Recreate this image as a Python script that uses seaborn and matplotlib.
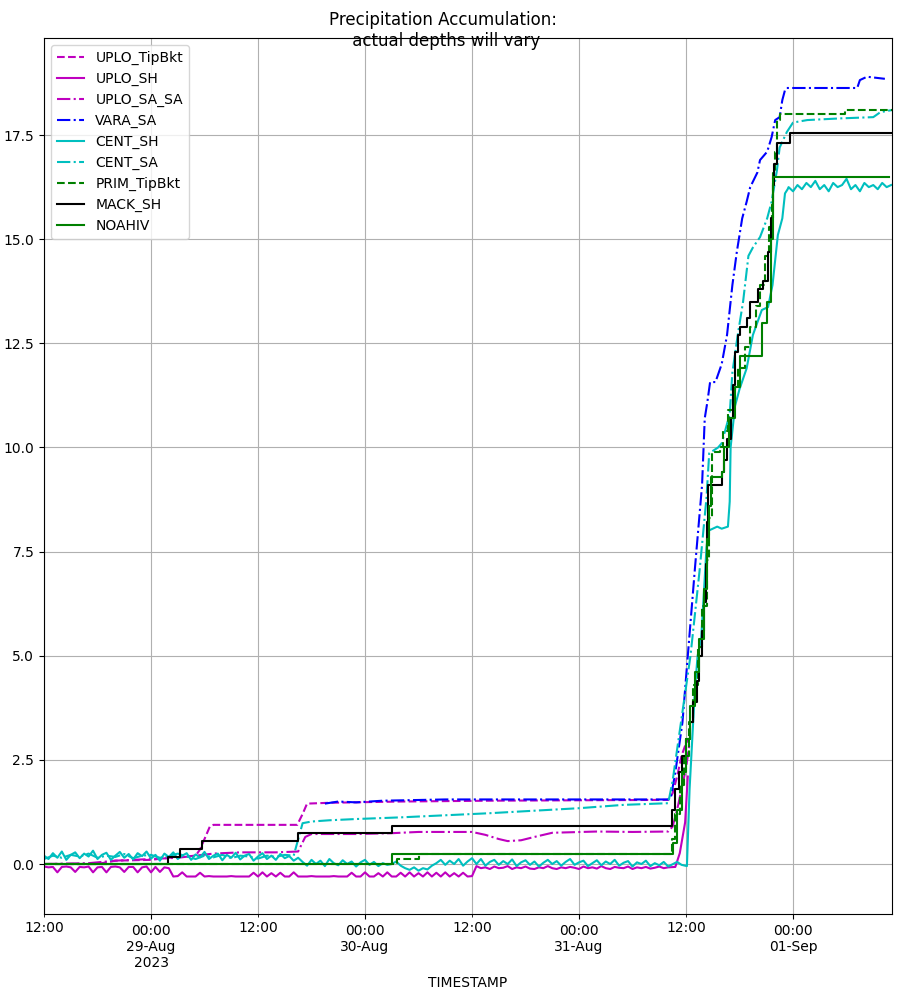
import numpy as np
import pandas as pd
import matplotlib
matplotlib.use("Agg")
import matplotlib.pyplot as plt
import matplotlib.dates as mdates
import seaborn as sns

# ---------------- data (hours after 2023-08-28 12:00) ----------------
START = "2023-08-28 12:00"
X_END_HOURS = 95.1

UPLO_TIPBKT_H = [0, 6, 8, 12, 14, 17, 17.5, 18.0, 18.6, 19.0, 28.4, 29.0, 29.5, 32, 40, 50, 60, 70.0, 70.5, 71.0, 71.5, 72.0, 72.3]
UPLO_TIPBKT_V = [0.0, 0.0, 0.08, 0.1, 0.15, 0.2, 0.35, 0.6, 0.9, 0.94, 0.94, 1.2, 1.45, 1.47, 1.5, 1.52, 1.53, 1.54, 1.7, 2.1, 2.6, 2.9, 3.0]

# half-hourly values h = 0 .. 70, then the rise
UPLO_SH_HALFHOURLY = [
    -0.06, -0.08, -0.07, -0.2, -0.07, -0.06, -0.08, -0.19, -0.07, -0.08,
    -0.06, -0.2, -0.08, -0.07, -0.2, -0.07, -0.06, -0.08, -0.19, -0.07,
    -0.07, -0.2, -0.08, -0.06, -0.2, -0.07, -0.19, -0.08, -0.1,
    -0.3, -0.29, -0.2, -0.3, -0.3, -0.3, -0.21, -0.3, -0.29, -0.3,
    -0.3, -0.3, -0.3, -0.29, -0.3, -0.3, -0.3, -0.3, -0.21, -0.3,
    -0.2, -0.3, -0.22, -0.3, -0.21, -0.3, -0.3, -0.2, -0.3, -0.3,
    -0.3, -0.29, -0.3, -0.3, -0.3, -0.3, -0.29, -0.3, -0.3, -0.3,
    -0.21, -0.3, -0.3, -0.2, -0.3, -0.3, -0.22, -0.3, -0.2, -0.3,
    -0.3, -0.21, -0.3, -0.2, -0.3, -0.22, -0.3, -0.2, -0.3, -0.21,
    -0.3, -0.2, -0.3, -0.22, -0.3, -0.21, -0.3, -0.29,
    -0.05, -0.1, -0.08, -0.12, -0.06, -0.1, -0.09, -0.05, -0.12, -0.08,
    -0.1, -0.06, -0.11, -0.12, -0.08, -0.1, -0.05, -0.1, -0.12, -0.08,
    -0.1, -0.07, -0.09, -0.12, -0.06, -0.1, -0.08, -0.11, -0.05, -0.1,
    -0.12, -0.07, -0.09, -0.1, -0.06, -0.12, -0.08, -0.1, -0.07, -0.11,
    -0.09, -0.06, -0.1, -0.08]
UPLO_SH_RISE_H = [70.8, 71.3, 71.9, 72.2]
UPLO_SH_RISE_V = [-0.07, 0.26, 1.0, 2.1]

UPLO_SA_SA_H = [0, 5, 8, 12, 15, 17, 19, 22, 26, 28.5, 29.3, 30, 35, 39, 42, 48, 49.5, 51, 52, 53.5, 55, 57, 62, 66, 70, 70.5, 71, 71.5, 72, 72.4]
UPLO_SA_SA_V = [0.0, 0.02, 0.08, 0.12, 0.15, 0.2, 0.25, 0.28, 0.28, 0.3, 0.65, 0.72, 0.72, 0.74, 0.77, 0.77, 0.7, 0.6, 0.55, 0.57, 0.65, 0.75, 0.78, 0.77, 0.78, 0.9, 1.3, 1.8, 2.3, 2.9]

VARA_SA_H = [31.5, 33, 35, 38, 45, 55, 65, 70.0, 70.3, 70.8, 71.6, 72.2, 73.0, 73.8, 74.1, 74.4, 74.7, 75.3, 76.0, 76.6,
             77.2, 77.7, 78.3, 78.8, 79.2, 80.0, 80.3, 81.1, 81.6, 82.0, 82.5, 82.8, 83.1, 83.3, 91.2, 91.5, 92.3, 94.3]
VARA_SA_V = [1.45, 1.5, 1.48, 1.52, 1.55, 1.55, 1.55, 1.55, 1.6, 2.2, 3.4, 5.0, 7.1, 9.1, 10.7, 11.1, 11.57, 11.57, 12.0, 12.7,
             13.9, 14.7, 15.5, 15.9, 16.25, 16.6, 16.9, 17.1, 17.45, 17.86, 17.93, 18.34, 18.58, 18.63, 18.63, 18.82, 18.9, 18.85]

# half-hourly values h = 0 .. 70, the rise, then half-hourly values h = 83.5 .. 95
CENT_SH_HALFHOURLY = [
    0.2, 0.12, 0.26, 0.15, 0.3, 0.1, 0.22, 0.28, 0.14, 0.25, 0.18, 0.32, 0.12, 0.22, 0.27, 0.1, 0.2, 0.29, 0.15, 0.24,
    0.11, 0.26, 0.19, 0.3, 0.13, 0.22, 0.08, 0.25, 0.17, 0.28, 0.12, 0.2, 0.26, 0.1, 0.23, 0.16, 0.29, 0.12, 0.2, 0.25,
    0.09, 0.22, 0.15, 0.27, 0.11, 0.2, 0.24, 0.08, 0.18, 0.26, 0.12, 0.2, 0.1, 0.24, 0.14, 0.19, 0.08, 0.15,
    0.05, -0.04, 0.1, 0.0, 0.08, -0.05, 0.12, 0.02, -0.03, 0.09, 0.0, 0.06, -0.06, 0.04, 0.1, -0.02, 0.05, -0.05, 0.02, -0.02,
    0.0, 0.06, -0.04, -0.1, -0.14, -0.08, -0.16, -0.1, -0.13, -0.04, 0.02, 0.1, -0.02, 0.08, 0.0, 0.12, -0.04, 0.06, 0.14, 0.0,
    0.12, -0.04, 0.05, 0.1, -0.02, 0.07, 0.0, 0.11, -0.05, 0.04, 0.09, -0.02, 0.06, -0.06, 0.03, 0.1, 0.0, 0.07, -0.04, 0.05,
    0.12, -0.02, 0.04, 0.08, -0.05, 0.02, 0.09, -0.03, 0.06, 0.0, 0.1, -0.04, 0.03, 0.07, -0.06, 0.04, 0.0, 0.08, -0.05, 0.02,
    -0.03, 0.05, -0.06]
CENT_SH_RISE_H = [71.0, 71.5, 72.1, 72.2, 72.4, 72.6, 72.8, 73.0, 73.3, 73.7, 74.0, 74.3, 74.5, 75.5, 76.0, 76.7, 76.9,
                  77.0, 77.5, 78.0, 78.8, 79.5, 80.5, 81.2, 81.7, 82.3, 82.8, 83.1, 83.4]
CENT_SH_RISE_V = [0.05, -0.02, -0.05, 0.58, 1.8, 2.6, 3.4, 4.2, 5.0, 5.4, 6.5, 7.6, 8.0, 8.1, 8.05, 8.1, 8.7,
                  10.0, 11.0, 11.4, 11.9, 12.7, 13.3, 13.37, 13.9, 15.1, 15.5, 16.1, 16.2]
CENT_SH_TAIL = [16.25, 16.15, 16.3, 16.2, 16.35, 16.25, 16.4, 16.2, 16.3, 16.15, 16.35, 16.25, 16.3, 16.45, 16.2, 16.3,
                16.15, 16.35, 16.25, 16.3, 16.2, 16.35, 16.25, 16.3]

CENT_SA_HOURLY = [0.12, 0.2, 0.15, 0.22, 0.18, 0.25, 0.15, 0.2, 0.17, 0.24, 0.14, 0.2, 0.22, 0.15, 0.19, 0.25, 0.18,
                  0.12, 0.2, 0.16, 0.22, 0.14, 0.2, 0.18, 0.13, 0.2, 0.17, 0.22, 0.2]
CENT_SA_H = [29.0, 30, 32, 35, 40, 45, 50, 55, 60, 65, 70.0, 70.5, 71.5, 72.5, 73.5, 74.3, 74.6, 75.6, 76.0, 76.9, 77.2,
             77.8, 78.4, 79.0, 79.5, 80.3, 81.1, 81.6, 82.2, 82.5, 83.3, 84.0, 85.6, 89.3, 93.0, 93.8, 95.1]
CENT_SA_V = [0.98, 1.02, 1.05, 1.08, 1.12, 1.17, 1.22, 1.28, 1.34, 1.42, 1.46, 2.0, 3.5, 5.0, 7.0, 8.8, 9.86, 10.0, 10.1,
             10.8, 11.8, 12.7, 13.5, 14.6, 14.8, 15.05, 15.5, 15.9, 16.66, 17.2, 17.57, 17.8, 17.86, 17.9, 17.93, 18.05, 18.1]

PRIM_TIPBKT_H = [0, 39.6, 42.0, 70.4, 70.8, 71.3, 71.8, 72.3, 72.8, 73.3, 73.8, 74.3, 74.6, 74.9, 75.8, 76.2, 76.7, 77.3,
                 77.8, 78.6, 79.2, 79.8, 80.3, 80.9, 81.3, 81.6, 81.8, 82.0, 82.2, 82.5, 89.8, 95.1]
PRIM_TIPBKT_V = [0.0, 0.12, 0.25, 0.6, 1.2, 1.9, 2.6, 3.4, 4.3, 5.2, 6.2, 7.3, 8.3, 9.9, 10.0, 10.4, 10.9, 11.4, 11.9,
                 12.4, 12.9, 13.4, 13.9, 14.6, 15.3, 15.9, 16.6, 17.1, 17.86, 18.0, 18.1, 18.1]

MACK_SH_H = [0, 13.9, 15.25, 17.7, 28.5, 39.0, 70.4, 70.8, 71.2, 71.6, 72.0, 72.4, 72.8, 73.2, 73.5, 73.8, 74.0, 74.2,
             74.4, 74.5, 76.0, 76.3, 76.6, 77.0, 77.3, 77.5, 77.8, 78.1, 78.8, 79.2, 80.1, 80.6, 81.2, 81.5, 81.7, 81.9,
             82.2, 83.7, 95.1]
MACK_SH_V = [0.0, 0.17, 0.36, 0.55, 0.74, 0.91, 1.3, 1.8, 2.2, 2.6, 3.0, 3.4, 3.9, 4.4, 5.0, 5.6, 6.3, 7.2, 8.2, 9.1,
             9.4, 9.7, 10.2, 10.7, 11.5, 12.3, 12.7, 12.9, 13.1, 13.5, 13.8, 14.0, 14.7, 15.5, 16.3, 16.8, 17.3, 17.55, 17.55]

NOAHIV_H = [0, 39.0, 70.5, 71.0, 71.5, 72.0, 72.5, 73.0, 73.5, 74.0, 74.4, 74.6, 74.8, 76.0, 76.3, 76.8, 77.5, 78.0,
            80.5, 81.1, 81.5, 81.7, 94.8]
NOAHIV_V = [0.0, 0.24, 0.5, 1.3, 2.2, 3.0, 3.8, 4.6, 5.4, 6.6, 7.8, 8.6, 9.3, 9.4, 10.0, 10.7, 11.45, 12.2, 13.0, 13.5,
            15.0, 16.5, 16.5]

SERIES_NAMES = ["UPLO_TipBkt", "UPLO_SH", "UPLO_SA_SA", "VARA_SA", "CENT_SH", "CENT_SA", "PRIM_TipBkt", "MACK_SH", "NOAHIV"]

MAJOR_TICKS = ["2023-08-29 00:00", "2023-08-30 00:00", "2023-08-31 00:00", "2023-09-01 00:00"]
MAJOR_LABELS = ["00:00\n29-Aug\n2023", "00:00\n30-Aug", "00:00\n31-Aug", "00:00\n01-Sep"]
MINOR_TICKS = ["2023-08-28 12:00", "2023-08-29 12:00", "2023-08-30 12:00", "2023-08-31 12:00"]
MINOR_LABELS = ["12:00", "12:00", "12:00", "12:00"]

TITLE = "Precipitation Accumulation:\n actual depths will vary"

# ---------------- build ----------------
start = pd.Timestamp(START)


def to_time(hours):
    return start + pd.to_timedelta(np.asarray(hours, dtype=float), unit="h")


half_uplo = [0.5 * i for i in range(len(UPLO_SH_HALFHOURLY))]
half_cent_sh = [0.5 * i for i in range(len(CENT_SH_HALFHOURLY))]
tail_cent_sh = [83.5 + 0.5 * i for i in range(len(CENT_SH_TAIL))]
hourly_cent_sa = list(range(len(CENT_SA_HOURLY)))

data = {
    "UPLO_TipBkt": (UPLO_TIPBKT_H, UPLO_TIPBKT_V),
    "UPLO_SH": (half_uplo + UPLO_SH_RISE_H, UPLO_SH_HALFHOURLY + UPLO_SH_RISE_V),
    "UPLO_SA_SA": (UPLO_SA_SA_H, UPLO_SA_SA_V),
    "VARA_SA": (VARA_SA_H, VARA_SA_V),
    "CENT_SH": (half_cent_sh + CENT_SH_RISE_H + tail_cent_sh, CENT_SH_HALFHOURLY + CENT_SH_RISE_V + CENT_SH_TAIL),
    "CENT_SA": (hourly_cent_sa + CENT_SA_H, CENT_SA_HOURLY + CENT_SA_V),
    "PRIM_TipBkt": (PRIM_TIPBKT_H, PRIM_TIPBKT_V),
    "MACK_SH": (MACK_SH_H, MACK_SH_V),
    "NOAHIV": (NOAHIV_H, NOAHIV_V),
}
styles = {
    "UPLO_TipBkt": ("m", "--", False),
    "UPLO_SH": ("m", "-", False),
    "UPLO_SA_SA": ("m", "-.", False),
    "VARA_SA": ("b", "-.", False),
    "CENT_SH": ("c", "-", False),
    "CENT_SA": ("c", "-.", False),
    "PRIM_TipBkt": ("g", "--", True),
    "MACK_SH": ("k", "-", True),
    "NOAHIV": ("g", "-", True),
}

fig, ax = plt.subplots(figsize=(9.03, 10.02), dpi=100)
fig.subplots_adjust(left=44 / 903, right=892 / 903, top=1 - 38 / 1002, bottom=1 - 914 / 1002)

for name in SERIES_NAMES:
    hrs, vals = data[name]
    color, ls, steps = styles[name]
    df = pd.DataFrame({"TIMESTAMP": to_time(hrs), "value": vals})
    sns.lineplot(data=df, x="TIMESTAMP", y="value", ax=ax, color=color, linestyle=ls,
                 linewidth=1.5, estimator=None, sort=False, label=name,
                 drawstyle="steps-post" if steps else "default")

ax.set_xlim(mdates.date2num(start), mdates.date2num(start + pd.Timedelta(hours=X_END_HOURS)))
ax.set_ylim(-1.2, 19.83)

ax.set_xticks([mdates.date2num(pd.Timestamp(t)) for t in MAJOR_TICKS], labels=MAJOR_LABELS)
ax.set_xticks([mdates.date2num(pd.Timestamp(t)) for t in MINOR_TICKS], labels=MINOR_LABELS, minor=True)
for lab in ax.get_xticklabels(minor=True) + ax.get_xticklabels():
    lab.set_ha("center")

ax.grid(True, which="both", color="#b0b0b0", linewidth=0.8)
ax.set_xlabel("TIMESTAMP")
ax.set_ylabel("")
ax.legend(loc="upper left")

fig.text(443.5 / 903, 1 - 11 / 1002, TITLE, ha="center", va="top", fontsize=12)

fig.savefig("out.png", dpi=100)
